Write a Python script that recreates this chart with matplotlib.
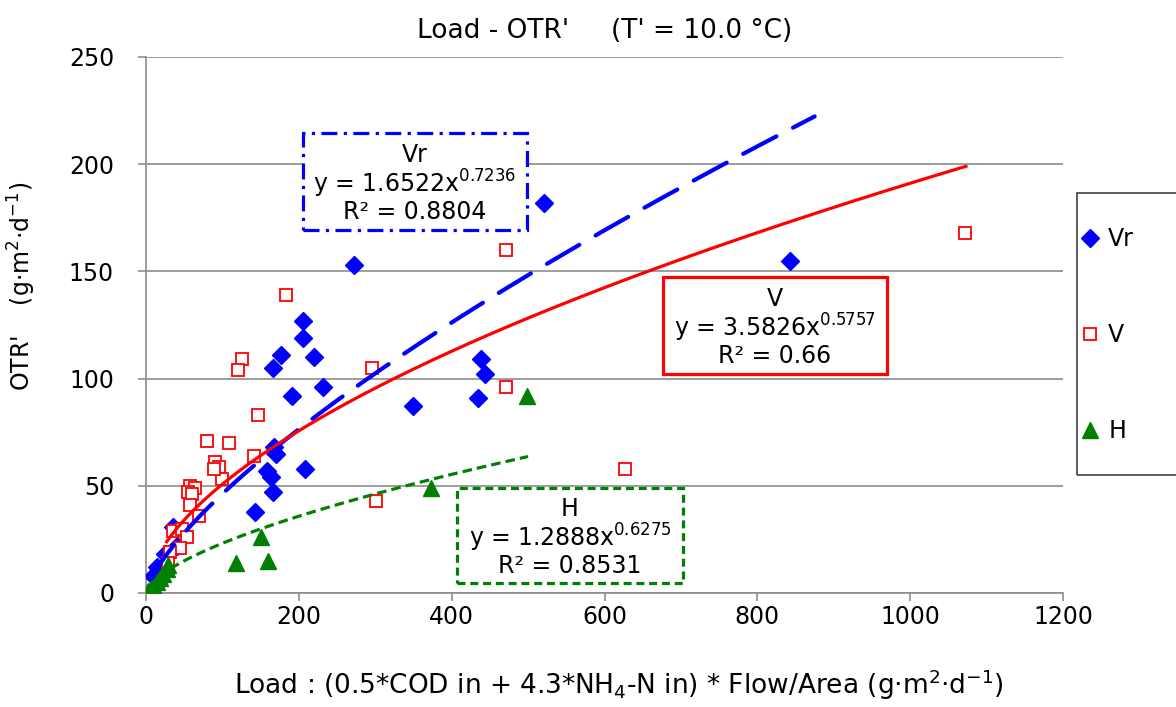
import numpy as np
import matplotlib
matplotlib.use("Agg")
import matplotlib.pyplot as plt
from matplotlib.patches import Rectangle
from matplotlib.lines import Line2D

# --- data ---
vr_x = [521, 843, 272, 205, 205, 177, 166, 220, 191, 232, 349, 438, 444, 434,
        168, 170, 158, 164, 166, 208, 143, 35, 40, 14, 9, 25]
vr_y = [182, 155, 153, 127, 119, 111, 105, 110, 92, 96, 87, 109, 102, 91,
        68, 65, 57, 54, 47, 58, 38, 31, 22, 12, 8, 18]

v_x = [1072, 627, 301, 471, 471, 296, 183, 147, 126, 120, 80, 109, 141, 90, 96,
       99, 58, 64, 55, 60, 58, 69, 35, 47, 54, 45, 31, 29, 89]
v_y = [168, 58, 43, 160, 96, 105, 139, 83, 109, 104, 71, 70, 64, 61, 59,
       53, 50, 49, 47, 46, 41, 36, 29, 30, 26, 21, 19, 14, 58]

h_x = [499, 373, 150, 160, 118, 3, 6, 10, 14, 18, 22, 27, 29]
h_y = [92, 49, 26, 15, 14, 1, 2, 3, 5, 7, 9, 11, 13]

# power fits y = a * x^b (from the chart labels)
fits = {
    "Vr": (1.6522, 0.7236, 0.8804),
    "V": (3.5826, 0.5757, 0.66),
    "H": (1.2888, 0.6275, 0.8531),
}
fit_range = {"Vr": (9, 875), "V": (27, 1073), "H": (3, 500)}

BLUE = "#0000FF"
RED = "#FF0000"
GREEN = "#008000"
GRID = "#8c8c8c"

plt.rcParams["font.family"] = ["DejaVu Sans"]
plt.rcParams["mathtext.fontset"] = "dejavusans"

fig = plt.figure(figsize=(11.76, 7.07), dpi=100)
ax = fig.add_axes([146 / 1176, 1 - 593 / 707, (1063 - 146) / 1176, (593 - 57) / 707])

# scatter series
ax.plot(vr_x, vr_y, ls="none", marker="D", ms=9.5, color=BLUE, mec=BLUE, zorder=3)
ax.plot(v_x, v_y, ls="none", marker="s", ms=9, mfc="white", mec=RED, mew=1.3, zorder=3)
ax.plot(h_x, h_y, ls="none", marker="^", ms=11, color=GREEN, mec=GREEN, zorder=3)

# trend lines
def curve(name):
    a, b, _ = fits[name]
    lo, hi = fit_range[name]
    xs = np.linspace(lo, hi, 300)
    return xs, a * xs ** b

xs, ys = curve("Vr")
ax.plot(xs, ys, color=BLUE, lw=3, dashes=(9, 4.5), dash_capstyle="round", zorder=4)
xs, ys = curve("V")
ax.plot(xs, ys, color=RED, lw=2.3, zorder=4)
xs, ys = curve("H")
ax.plot(xs, ys, color=GREEN, lw=2.3, dashes=(3, 1.6), zorder=4)

# axes styling
ax.set_xlim(0, 1200)
ax.set_ylim(0, 250)
ax.set_xticks(range(0, 1201, 200))
ax.set_yticks(range(0, 251, 50))
ax.grid(axis="y", color=GRID, lw=1.2)
ax.set_axisbelow(True)
for s in ["top", "right"]:
    ax.spines[s].set_visible(False)
for s in ["left", "bottom"]:
    ax.spines[s].set_color(GRID)
    ax.spines[s].set_linewidth(1.2)
ax.tick_params(direction="out", length=6, width=1.2, color=GRID, labelsize=17)
ax.tick_params(axis="x", pad=3)
ax.tick_params(axis="y", pad=17)

ax.set_title("Load - OTR'     (T' = 10.0 °C)", fontsize=19, pad=14)
ax.set_xlabel("Load : (0.5*COD in + 4.3*NH$_4$-N in) * Flow/Area (g·m$^2$·d$^{-1}$)",
              fontsize=19)
ax.xaxis.set_label_coords((619 - 146) / 917, -(668 - 593) / 536)
ax.set_ylabel("OTR'    (g·m$^2$·d$^{-1}$)", fontsize=17)
ax.yaxis.set_label_coords(-(146 - 38) / 917, (593 - 286) / 536)

# equation boxes (data-space placement)
boxes = [
    ("Vr", (205, 169.3, 293.6, 45.3), BLUE, (0, (5, 2, 1, 2))),
    ("V", (676.5, 102.1, 293.1, 45.3), RED, "-"),
    ("H", (407, 4.7, 295.7, 44.3), GREEN, (0, (2.5, 1.5))),
]
for name, (bx, by, bw, bh), col, ls in boxes:
    a, b, r2 = fits[name]
    ax.add_patch(Rectangle((bx, by), bw, bh, fill=True, fc="white", ec=col, lw=2.3,
                           ls=ls, zorder=5))
    txt = f"{name}\ny = {a:.4f}x$^{{{b:.4f}}}$\nR² = {r2:g}"
    ax.text(bx + bw / 2, by + bh / 2 - 1, txt, ha="center", va="center",
            multialignment="center", fontsize=17, zorder=6, linespacing=1.02)

# legend with frame running off the right edge
fig.patches.append(Rectangle((1077 / 1176, 1 - 475 / 707), 0.2, (475 - 193) / 707,
                             transform=fig.transFigure, fill=False, ec="#404040", lw=1.2))
handles = [
    Line2D([], [], ls="none", marker="D", ms=9.5, color=BLUE),
    Line2D([], [], ls="none", marker="s", ms=9, mfc="white", mec=RED, mew=1.3),
    Line2D([], [], ls="none", marker="^", ms=11, color=GREEN),
]
fig.legend(handles, ["Vr", "V", "H"], loc="upper left",
           bbox_to_anchor=(1081 / 1176, 1 - 227 / 707), frameon=False,
           fontsize=17, labelspacing=3.05, handlelength=0.8, handletextpad=0.35,
           borderaxespad=0, borderpad=0)

fig.savefig("out.png", dpi=100)
